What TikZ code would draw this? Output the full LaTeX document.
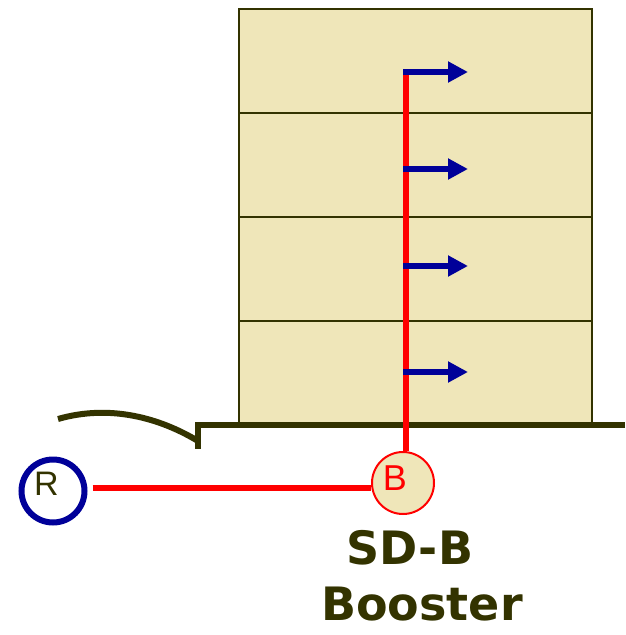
\documentclass[tikz,border=0pt]{standalone}
\usepackage{fontspec}
\setmainfont{DejaVu Sans}
\newfontfamily\thinfont{Liberation Sans}
\usetikzlibrary{arrows.meta}
\definecolor{olivedk}{HTML}{333300}
\definecolor{beigefill}{HTML}{EFE6B9}
\definecolor{bluedk}{HTML}{000099}
\definecolor{redpipe}{HTML}{FF0000}
\tikzset{
  wall/.style={draw=olivedk, line width=2pt},
  groundline/.style={draw=olivedk, line width=6pt},
  pipe/.style={draw=redpipe, line width=6pt},
  flow/.style={draw=bluedk, line width=6pt, -{Triangle[length=20pt,width=20pt]}},
  labeltext/.style={text=olivedk, font=\bfseries\fontsize{46}{56}\selectfont, anchor=base, inner sep=0pt},
}
\begin{document}
\begin{tikzpicture}[x=1pt,y=-1pt]
\useasboundingbox (0,0) rectangle (625,635);
% building
\fill[beigefill] (239,9) rectangle (592,423);
\draw[wall] (239,423) -- (239,9) -- (592,9) -- (592,423);
\draw[wall] (239,113) -- (592,113);
\draw[wall] (239,217) -- (592,217);
\draw[wall] (239,321) -- (592,321);
% ground
\draw[groundline] (625,424.5) -- (198,424.5) -- (198,449);
\draw[groundline] (58,419) .. controls (110,404) and (160,418) .. (198,441);
% circles
\node[circle, draw=bluedk, line width=6pt, minimum size=63pt, inner sep=0pt] (R) at (53,491) {};
\node[text=olivedk, font=\thinfont\fontsize{34}{36}\selectfont, inner sep=0pt] (Rt) at (46.5,484) {R};
\node[circle, draw=redpipe, fill=beigefill, line width=2pt, minimum size=62pt, inner sep=0pt] (B) at (403,483) {};
\node[text=redpipe, font=\thinfont\fontsize{36}{38}\selectfont, inner sep=0pt] (Bt) at (395,478) {B};
% pipes
\coordinate (pY) at (0,487.5);
\draw[pipe, shorten <=5pt] (R.east |- pY) -- (B.west |- pY);
\coordinate (top) at (406,69);
\draw[pipe] (top |- B.north) -- (top);
\coordinate (a1) at (403,72);
\coordinate (a2) at (403,169);
\coordinate (a3) at (403,266);
\coordinate (a4) at (403,372);
\coordinate (e1) at (468,72);
\coordinate (e2) at (468,169);
\coordinate (e3) at (468,266);
\coordinate (e4) at (468,372);
\draw[flow] (a1) -- (e1);
\draw[flow] (a2) -- (e2);
\draw[flow] (a3) -- (e3);
\draw[flow] (a4) -- (e4);
% labels
\node[labeltext] (l1) at (410,564) {SD-B};
\node[labeltext] (l2) at (422,620) {Booster};
\end{tikzpicture}
\end{document}
